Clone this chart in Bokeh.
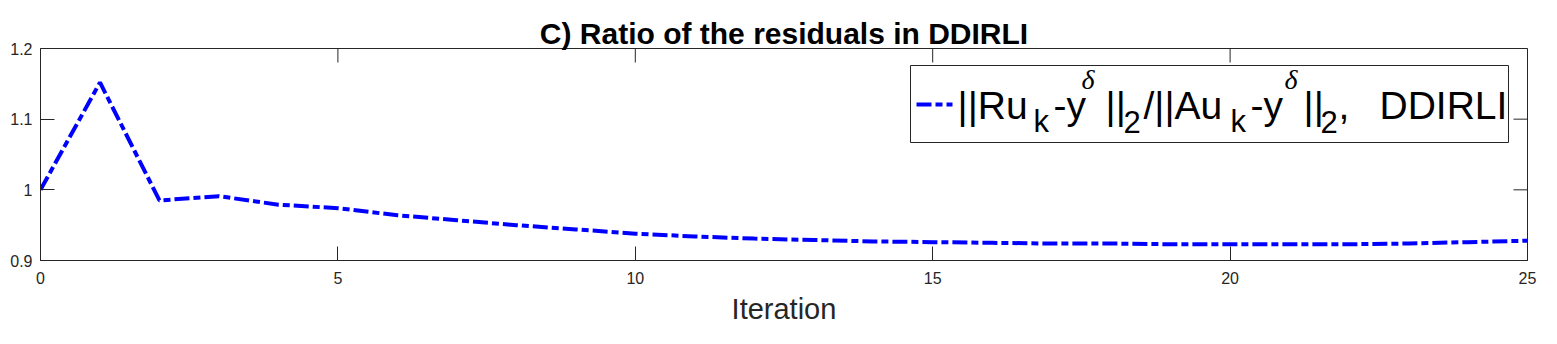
from bokeh.plotting import figure
from bokeh.models import (Range1d, FixedTicker, CustomJSTickFormatter,
                          Label, BoxAnnotation, Arrow)
from bokeh.embed import file_html
from bokeh.resources import INLINE

# ---- data ----
iterations = list(range(26))
ratio = [1.000, 1.152, 0.985, 0.991, 0.979, 0.974, 0.964, 0.957, 0.950, 0.944,
         0.938, 0.934, 0.931, 0.929, 0.927, 0.926, 0.925, 0.924, 0.924, 0.923,
         0.923, 0.923, 0.923, 0.924, 0.926, 0.928]
x_ticks = [0, 5, 10, 15, 20, 25]
y_ticks = [0.9, 1.0, 1.1, 1.2]
title_text = "C) Ratio of the residuals in DDIRLI"
x_label = "Iteration"

X0, X1 = 0, 25
Y0, Y1 = 0.9, 1.2
AX = "#262626"

p = figure(width=1549, height=336, output_backend="svg", toolbar_location=None,
           x_range=Range1d(X0, X1), y_range=Range1d(Y0, Y1),
           min_border_left=40, min_border_right=22, min_border_top=48,
           min_border_bottom=76, x_axis_label=x_label)
p.background_fill_color = "white"
p.border_fill_color = "white"
p.xgrid.visible = False
p.ygrid.visible = False
p.outline_line_color = AX
p.outline_line_width = 1

xa = p.xaxis[0]
xa.ticker = FixedTicker(ticks=x_ticks)
ya = p.yaxis[0]
ya.ticker = FixedTicker(ticks=y_ticks)
ya.formatter = CustomJSTickFormatter(code="return String(Math.round(tick*10)/10);")
for ax in (xa, ya):
    ax.axis_line_color = AX
    ax.major_tick_line_color = AX
    ax.major_tick_in = 14
    ax.major_tick_out = 0
    ax.minor_tick_line_color = None
    ax.major_label_text_color = AX
    ax.major_label_text_font = "Liberation Sans"
    ax.major_label_text_font_size = "16px"
xa.major_label_standoff = 11
ya.major_label_standoff = 8
xa.axis_label_text_font = "Liberation Sans"
xa.axis_label_text_font_size = "29px"
xa.axis_label_text_font_style = "normal"
xa.axis_label_text_color = AX
xa.axis_label_standoff = 6

# mirrored inward ticks on top and right (box on)
p.ray(x=x_ticks, y=[Y1] * len(x_ticks), length=14, length_units="screen",
      angle=-90, angle_units="deg", line_color=AX, line_width=1)
p.ray(x=[X1] * len(y_ticks), y=y_ticks, length=14, length_units="screen",
      angle=180, angle_units="deg", line_color=AX, line_width=1)

p.title.text = title_text
p.title.align = "center"
p.title.text_font = "Liberation Sans"
p.title.text_font_size = "30px"
p.title.text_font_style = "bold"
p.title.text_color = "black"
p.title.standoff = -2

# main curve
DASH = "15 4 7 4"
p.line(iterations, ratio, line_color="#0000FF", line_width=4, line_dash=DASH)

# ---- legend (drawn by hand to get sub/superscripts) ----
FL, FT, FR, FB = 40, 48, 1527, 260   # frame edges in page pixels
def dx(px):
    return X0 + (px - FL) / (FR - FL) * (X1 - X0)
def dy(py):
    return Y1 - (py - FT) / (FB - FT) * (Y1 - Y0)

box = BoxAnnotation(left=dx(910), right=dx(1508), top=dy(65), bottom=dy(142),
                    fill_color="white", fill_alpha=1.0, line_color=AX,
                    line_alpha=1.0, line_width=1, level="underlay")
p.add_layout(box)
sample = Arrow(start=None, end=None, x_start=dx(916), x_end=dx(952),
               y_start=dy(104), y_end=dy(104), line_color="#0000FF",
               line_width=4, line_dash=DASH)
p.add_layout(sample)

SANS = "Liberation Sans"
MAIN, SUB, SUP = 39, 31, 28
# vertical anchor positions (page px), compensating for label box anchoring
YM, YS, YP = 105, 121, 79
pieces = [
    ("||Ru", 957, YM, MAIN, SANS, "normal"),
    ("k", 1033, YS, SUB, SANS, "normal"),
    ("-y", 1053, YM, MAIN, SANS, "normal"),
    ("\u03b4", 1081, YP, SUP, "Liberation Serif", "italic"),
    ("||", 1105, YM, MAIN, SANS, "normal"),
    ("2", 1123, YS, SUB, SANS, "normal"),
    ("/||Au", 1143, YM, MAIN, SANS, "normal"),
    ("k", 1230, YS, SUB, SANS, "normal"),
    ("-y", 1250, YM, MAIN, SANS, "normal"),
    ("\u03b4", 1284, YP, SUP, "Liberation Serif", "italic"),
    ("||", 1303, YM, MAIN, SANS, "normal"),
    ("2", 1320, YS, SUB, SANS, "normal"),
    (",", 1338, YM, MAIN, SANS, "normal"),
    ("DDIRLI", 1379, YM, MAIN, SANS, "normal"),
]
for txt, px, py, size, font, style in pieces:
    p.add_layout(Label(x=dx(px), y=dy(py), text=txt, text_font=font,
                       text_font_size=f"{size}px", text_font_style=style,
                       text_color="black", text_align="left",
                       text_baseline="alphabetic"))

open("out.html", "w").write(file_html(p, INLINE))
